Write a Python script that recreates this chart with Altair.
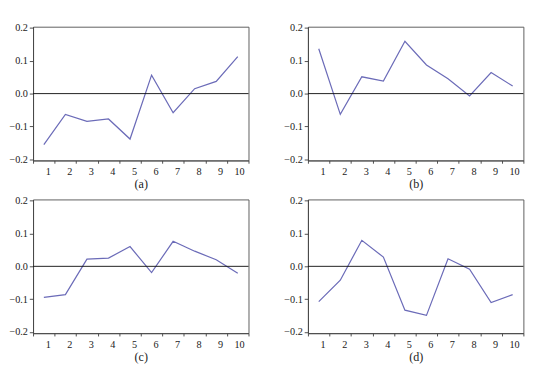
import altair as alt
import pandas as pd

periods = list(range(1, 11))
series_a = [-0.155, -0.063, -0.084, -0.077, -0.138, 0.056, -0.058, 0.015, 0.037, 0.112]
series_b = [0.136, -0.063, 0.051, 0.038, 0.159, 0.087, 0.045, -0.007, 0.064, 0.023]
series_c = [-0.094, -0.086, 0.022, 0.025, 0.060, -0.019, 0.076, 0.046, 0.020, -0.021]
series_d = [-0.107, -0.042, 0.079, 0.028, -0.133, -0.149, 0.023, -0.009, -0.110, -0.086]
panel_titles = ["(a)", "(b)", "(c)", "(d)"]
y_ticks = [-0.2, -0.1, 0.0, 0.1, 0.2]
x_bounds = [0.5 + i for i in range(11)]

LINE_COLOR = "#6b6bb8"
FONT = "Liberation Serif"
YDOM = [-0.203, 0.203]
W, H = 232, 144


def y_axis():
    return alt.Axis(
        values=y_ticks,
        format=".1f",
        grid=False,
        tickSize=4,
        labelPadding=2,
        labelOverlap=False,
        labelFlush=False,
        labelBound=False,
        tickCount=5,
        title=None,
    )


def panel(values, title):
    df = pd.DataFrame({"period": periods, "value": values})
    x = alt.X(
        "period:Q",
        scale=alt.Scale(domain=[0.5, 10.5], nice=False, zero=False),
        axis=alt.Axis(
            values=x_bounds,
            labelExpr="datum.value < 10 ? format(datum.value + 0.5, 'd') : ''",
            labelAlign="right",
            labelOffset=18.6,
            labelFlush=False,
            labelOverlap=False,
            labelBound=False,
            grid=False,
            tickSize=3,
            labelPadding=3,
            title=title,
            titleFontSize=13,
            titlePadding=2,
        ),
    )
    y = alt.Y("value:Q", scale=alt.Scale(domain=YDOM, nice=False, zero=False), axis=y_axis())
    line = alt.Chart(df).mark_line(color=LINE_COLOR, strokeWidth=1.3).encode(x=x, y=y)
    zero = alt.Chart(pd.DataFrame({"z": [0.0]})).mark_rule(color="#111", strokeWidth=1).encode(
        y=alt.YDatum(0.0, axis=y_axis(), scale=alt.Scale(domain=YDOM, nice=False, zero=False))
    )
    return alt.layer(line, zero).properties(width=W, height=H)


top = alt.hconcat(panel(series_a, panel_titles[0]), panel(series_b, panel_titles[1]), spacing=17)
bottom = alt.hconcat(panel(series_c, panel_titles[2]), panel(series_d, panel_titles[3]), spacing=17)
chart = (
    alt.vconcat(top, bottom, spacing=3)
    .properties(padding={"left": 0, "top": 0, "right": 0, "bottom": 0}, background="white")
    .configure_view(stroke="#555", strokeWidth=1)
    .configure_axis(
        labelFont=FONT,
        titleFont=FONT,
        labelFontSize=11,
        labelColor="#222",
        titleColor="#222",
        titleFontWeight="normal",
        domainColor="#444",
        tickColor="#444",
    )
)

chart.save("out.html", embed_options={"renderer": "svg", "actions": False})
